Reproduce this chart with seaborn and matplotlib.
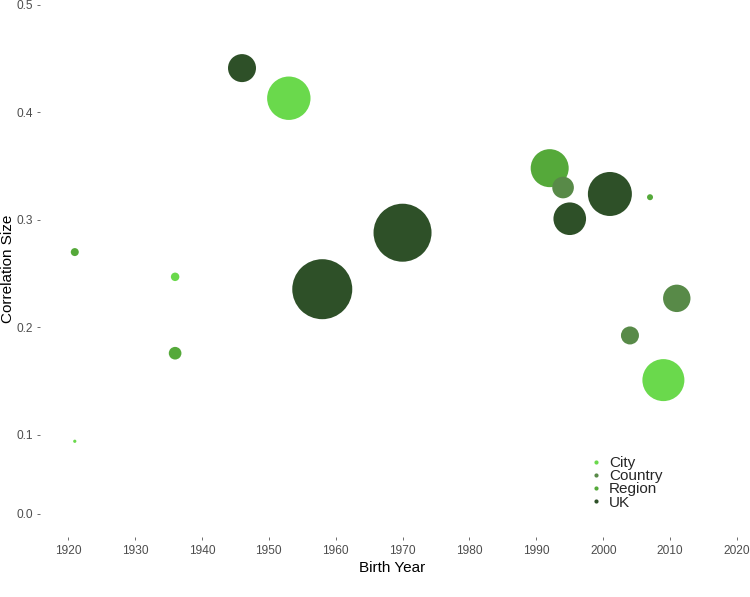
import numpy as np
import pandas as pd
import matplotlib
matplotlib.use("Agg")
import matplotlib.pyplot as plt
from matplotlib.lines import Line2D
import seaborn as sns

# ---- data ----
city_year = [1921, 1936, 1953, 2009]
city_corr = [0.092, 0.247, 0.413, 0.151]
city_weight = [2.6, 18, 471, 441]

region_year = [1921, 1936, 1992, 2007]
region_corr = [0.270, 0.176, 0.348, 0.321]
region_weight = [16, 40, 361, 9]

country_year = [1994, 2004, 2011]
country_corr = [0.330, 0.1925, 0.227]
country_weight = [117, 81, 188]

uk_year = [1946, 1958, 1970, 1995, 2001]
uk_corr = [0.441, 0.2355, 0.288, 0.301, 0.324]
uk_weight = [196, 900, 841, 266, 484]

levels = ["City", "Country", "Region", "UK"]
x_ticks = [1920, 1930, 1940, 1950, 1960, 1970, 1980, 1990, 2000, 2010, 2020]
y_ticks = [0.0, 0.1, 0.2, 0.3, 0.4, 0.5]

frames = []
for lvl, yrs, cs, ws in [("City", city_year, city_corr, city_weight),
                         ("Region", region_year, region_corr, region_weight),
                         ("Country", country_year, country_corr, country_weight),
                         ("UK", uk_year, uk_corr, uk_weight)]:
    frames.append(pd.DataFrame({"year": yrs, "corr": cs, "weight": ws, "level": lvl}))
df = pd.concat(frames, ignore_index=True)

palette = {"City": "#6AD94C", "Country": "#588A48", "Region": "#55A93A", "UK": "#2E5028"}

sns.set_style("white")
plt.rcParams["font.family"] = ["Liberation Sans", "DejaVu Sans"]

fig = plt.figure(figsize=(7.5, 5.97), dpi=100)
ax = fig.add_axes([40 / 750, 1 - 537 / 597, 705 / 750, 537 / 597])

# piecewise-linear y scale (compressed below 0.1 as in the reference)
K = 0.73
def fwd(y):
    y = np.asarray(y, dtype=float)
    return np.where(y >= 0.1, y, 0.1 - (0.1 - y) * K)
def inv(t):
    t = np.asarray(t, dtype=float)
    return np.where(t >= 0.1, t, 0.1 - (0.1 - t) / K)
ax.set_yscale("function", functions=(fwd, inv))

maxw = 900
sns.scatterplot(data=df, x="year", y="corr", hue="level", hue_order=levels,
                palette=palette, size="weight", sizes=(0, 2.0736 * maxw),
                size_norm=(0, maxw), linewidth=0, alpha=1, legend=False, ax=ax)

ax.set_xlim(1915.8, 2021.2)
ax.set_ylim(-0.0299, 0.5043)
ax.set_xticks(x_ticks)
ax.set_yticks(y_ticks)
ax.set_yticklabels([f"{v:.1f}" for v in y_ticks])
ax.set_xticklabels([str(v) for v in x_ticks])
ax.yaxis.set_minor_locator(matplotlib.ticker.NullLocator())
ax.xaxis.set_minor_locator(matplotlib.ticker.NullLocator())

for s in ax.spines.values():
    s.set_visible(False)
ax.grid(False)
ax.tick_params(axis="both", which="major", length=2.5, width=0.6, color="#555555",
               labelcolor="#4D4D4D", labelsize=8.6, pad=2.5, direction="out")
ax.tick_params(axis="x", bottom=True, pad=3.5)
ax.tick_params(axis="y", left=True)

ax.set_xlabel("Birth Year", fontsize=11, color="black", labelpad=2.5)
ax.set_ylabel("Correlation Size", fontsize=11, color="black", labelpad=1)

handles = [Line2D([], [], marker="o", linestyle="", markersize=3,
                  markerfacecolor=palette[l], markeredgewidth=0) for l in levels]
leg = fig.legend(handles, levels, loc="upper left",
                 bbox_to_anchor=(590 / 750, 1 - 456 / 597), frameon=False,
                 fontsize=11, labelspacing=-0.05, handlelength=0.8,
                 handletextpad=0.45, borderpad=0, borderaxespad=0)

fig.savefig("out.png", dpi=100, facecolor="white")
